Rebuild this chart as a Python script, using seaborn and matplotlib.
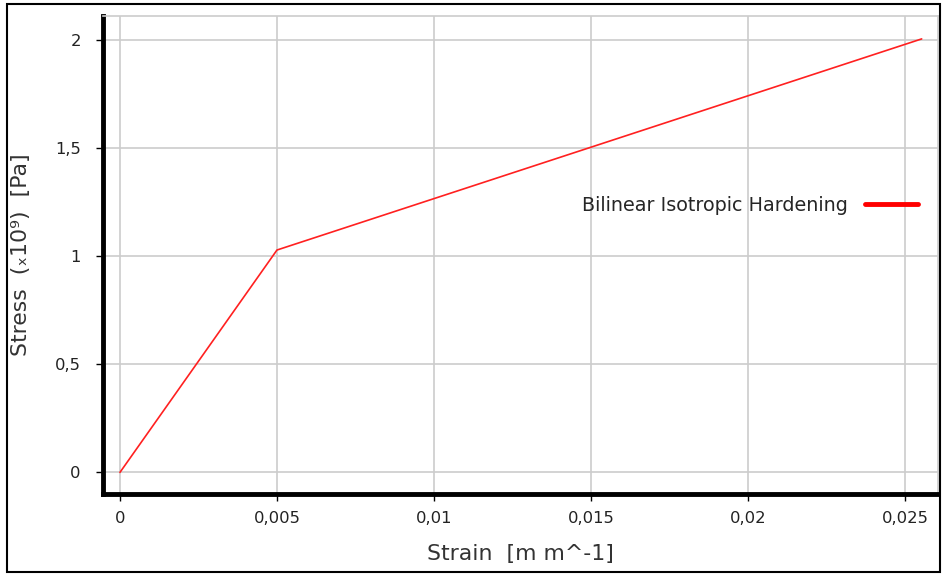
import matplotlib
matplotlib.use("Agg")
import matplotlib.pyplot as plt
from matplotlib.patches import Rectangle
import seaborn as sns
import pandas as pd

strain = [0.0, 0.005, 0.02553]
stress = [0.0, 1.029, 2.006]
series_name = "Bilinear Isotropic Hardening"
x_ticks = [0, 0.005, 0.01, 0.015, 0.02, 0.025]
x_tick_labels = ["0", "0,005", "0,01", "0,015", "0,02", "0,025"]
y_ticks = [0, 0.5, 1, 1.5, 2]
y_tick_labels = ["0", "0,5", "1", "1,5", "2"]

sns.set_theme(style="white")
plt.rcParams['font.family'] = 'sans-serif'
plt.rcParams['font.sans-serif'] = ['DejaVu Sans']

df = pd.DataFrame({"Strain": strain, "Stress": stress, "Series": series_name})

fig = plt.figure(figsize=(9.42, 5.76), dpi=100)
ax = fig.add_axes([103/942, 1-494/576, (938-103)/942, (494-16)/576])

sns.lineplot(data=df, x="Strain", y="Stress", hue="Series", palette=["#ff2020"],
             linewidth=1.2, ax=ax, legend=True)

ax.set_xlim(-0.00054, 0.02605)
ax.set_ylim(-0.1, 2.112)
ax.set_xticks(x_ticks)
ax.set_xticklabels(x_tick_labels)
ax.set_yticks(y_ticks)
ax.set_yticklabels(y_tick_labels)
ax.grid(True, color="#cccccc", linewidth=1.2)
ax.set_axisbelow(True)

for s in ["left", "bottom"]:
    ax.spines[s].set_color("black")
    ax.spines[s].set_linewidth(3.5)
for s in ["top", "right"]:
    ax.spines[s].set_color("#cccccc")
    ax.spines[s].set_linewidth(1.2)

ax.tick_params(axis="both", which="both", direction="out", length=5, width=1,
               color="black", labelsize=11.8, labelcolor="#222222",
               bottom=True, left=True)
ax.tick_params(axis="x", pad=7)
ax.tick_params(axis="y", pad=11)

ax.set_xlabel("Strain  [m m^-1]", fontsize=15.8, color="#333333", labelpad=13)
ax.set_ylabel("Stress  (ₓ10⁹)  [Pa]", fontsize=15.8, color="#333333", labelpad=17)

leg = ax.legend(loc="center right", bbox_to_anchor=(0.985, 0.604), frameon=False,
                markerfirst=False, fontsize=13.8, handlelength=2.75,
                handletextpad=0.9, borderaxespad=0, title=None)
for h in leg.get_lines():
    h.set_linewidth(3.5)
    h.set_color("#ff0000")

fig.patches.append(Rectangle((7/942, 4/576), (940-7)/942, (574-6)/576,
                             transform=fig.transFigure, fill=False,
                             edgecolor="black", linewidth=1.5))

fig.savefig("out.png", dpi=100)
